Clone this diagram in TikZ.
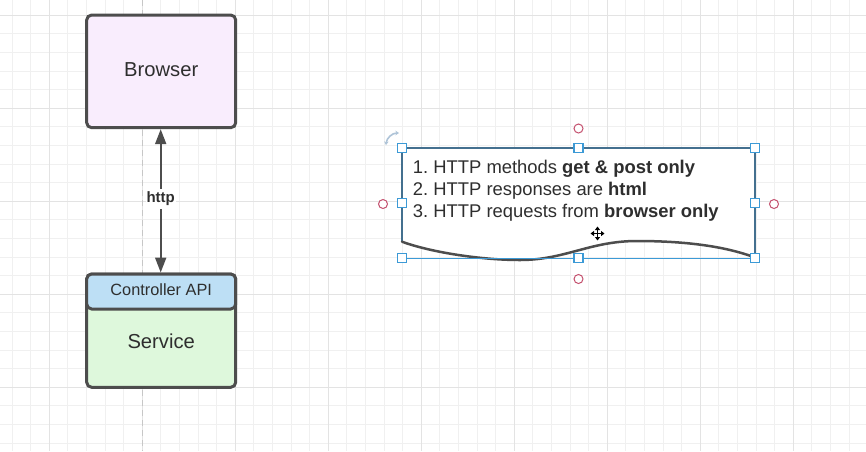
\documentclass[tikz,border=0pt]{standalone}
\usepackage{fontspec}
\setmainfont{Liberation Sans}
\usetikzlibrary{arrows.meta}
\definecolor{gridminor}{HTML}{F0F0F0}
\definecolor{gridmajor}{HTML}{E3E3E3}
\definecolor{edge}{HTML}{4D4D4D}
\definecolor{txt}{HTML}{2E2E2E}
\definecolor{pinkfill}{HTML}{F9EDFD}
\definecolor{bluefill}{HTML}{BDDFF5}
\definecolor{greenfill}{HTML}{DEF8DC}
\definecolor{selblue}{HTML}{3C9AD6}
\definecolor{docedge}{HTML}{44708F}
\definecolor{connred}{HTML}{C4506E}
\definecolor{rotgray}{HTML}{AFC4D8}
\frenchspacing
\begin{document}
\begin{tikzpicture}[x=1pt,y=-1pt,
  box/.style={draw=edge, line width=3pt, rounded corners=5pt, minimum width=149pt, inner sep=0pt},
  boxtext/.style={anchor=base, inner sep=0pt, text=txt},
  doctext/.style={anchor=base west, inner sep=0pt, text=txt, font=\fontsize{18.4}{22}\selectfont},
  handle/.style={draw=selblue, fill=white, line width=1.2pt, minimum size=9pt, inner sep=0pt},
  connpt/.style={draw=connred, fill=white, line width=1pt, circle, minimum size=9pt, inner sep=0pt},
  dblarrow/.style={draw=edge, line width=2pt, {Triangle[length=15pt,width=11pt]}-{Triangle[length=15pt,width=11pt]}}
]
% background and grid
\fill[white] (0,0) rectangle (866,451);
\useasboundingbox (0,0) rectangle (866,451);
\foreach \i in {0,...,46} {
  \pgfmathsetmacro\xx{12.1+18.6*\i}
  \draw[gridminor, line width=1pt] (\xx,0) -- (\xx,451);
}
\foreach \i in {0,...,24} {
  \pgfmathsetmacro\yy{-3.3+18.6*\i}
  \draw[gridminor, line width=1pt] (0,\yy) -- (866,\yy);
}
\foreach \i in {0,...,9} {
  \pgfmathsetmacro\xx{-43.7+93*\i}
  \draw[gridmajor, line width=1pt] (\xx,0) -- (\xx,451);
}
\foreach \i in {0,...,4} {
  \pgfmathsetmacro\yy{15.3+93*\i}
  \draw[gridmajor, line width=1pt] (0,\yy) -- (866,\yy);
}
% dashed lifeline
\coordinate (lifetop) at (142.7,0);
\coordinate (lifebot) at (142.7,451);
\draw[draw=black!22, line width=1.2pt, dash pattern=on 6pt off 4pt] (lifetop) -- (lifebot);

% Browser
\node[box, fill=pinkfill, minimum height=112.7pt] (browser) at (161.2,71.35) {};
\node[boxtext, font=\fontsize{20.2}{24}\selectfont] (browsertxt) at (161.2,76) {Browser};

% Service with Controller API header
\node[box, fill=greenfill, minimum height=113.3pt] (service) at (161.2,330.65) {};
\node[box, fill=bluefill, minimum height=35pt] (ctrl) at (161.2,291.5) {};
\node[boxtext, font=\fontsize{16.3}{20}\selectfont] (ctrltxt) at (161.2,295.7) {Controller API};
\node[boxtext, font=\fontsize{20.2}{24}\selectfont] (servicetxt) at (161.2,348.3) {Service};

% http arrow
\coordinate (ax) at (160.7,0);
\draw[dblarrow] (browser.south -| ax) -- (ctrl.north -| ax);
\node[fill=white, inner xsep=1pt, inner ysep=3pt, text=txt, font=\bfseries\fontsize{15}{18}\selectfont] (http) at (160.7,199) {http};

% Document shape
\coordinate (dtl) at (402,148);
\coordinate (dtr) at (755,148);
\coordinate (dbr) at (755,257.5);
\coordinate (dbl) at (402,241.7);
\fill[white] (dbl) -- (dtl) -- (dtr) -- (dbr)
  .. controls (735,250) and (700,241) .. (637,241)
  .. controls (590,241) and (565,260) .. (520,260)
  .. controls (480,260) and (430,252) .. (dbl) -- cycle;
\draw[docedge, line width=2.5pt, line join=round] (dbl) -- (dtl) -- (dtr) -- (dbr);
\draw[edge, line width=2.5pt, line cap=round] (dbr)
  .. controls (735,250) and (700,241) .. (637,241)
  .. controls (590,241) and (565,260) .. (520,260)
  .. controls (480,260) and (430,252) .. (dbl);
\node[doctext] (line1) at (412.7,173.3) {1. HTTP methods \textbf{get \& post only}};
\node[doctext] (line2) at (412.7,195.3) {2. HTTP responses are \textbf{html}};
\node[doctext] (line3) at (412.7,217.3) {3. HTTP requests from \textbf{browser only}};

% selection frame
\coordinate (sbl) at (402,258.3);
\coordinate (sbr) at (755,258.3);
\draw[selblue, line width=1pt] (sbl) -- (sbr);
\node[handle] (h1) at (402,148) {};
\node[handle] (h2) at (578.5,148) {};
\node[handle] (h3) at (755,148) {};
\node[handle] (h4) at (402,203) {};
\node[handle] (h5) at (755,203) {};
\node[handle] (h6) at (402,258.3) {};
\node[handle] (h7) at (578.5,258.3) {};
\node[handle] (h8) at (755,258.3) {};
\node[connpt] (c1) at (578.5,128.5) {};
\node[connpt] (c2) at (383,204) {};
\node[connpt] (c3) at (774,204) {};
\node[connpt] (c4) at (578.5,279) {};

% rotation icon
\coordinate (rotA) at (386,145);
\coordinate (rotB) at (399,133);
\draw[rotgray, line width=1.6pt, {Stealth[length=3.5pt,width=4.5pt]}-{Stealth[length=3.5pt,width=4.5pt]}] (rotA) to[out=85, in=180] (rotB);

% move cursor
\coordinate (mc) at (597.5,233.5);
\begin{scope}[shift={(mc)}]
  \draw[white, line width=3.6pt, line cap=round] (-6.5,0) -- (6.5,0) (0,-6.5) -- (0,6.5);
  \draw[black, line width=1.4pt, {Triangle[length=3.5pt,width=5pt]}-{Triangle[length=3.5pt,width=5pt]}] (-7,0) -- (7,0);
  \draw[black, line width=1.4pt, {Triangle[length=3.5pt,width=5pt]}-{Triangle[length=3.5pt,width=5pt]}] (0,-7) -- (0,7);
\end{scope}
\end{tikzpicture}
\end{document}
